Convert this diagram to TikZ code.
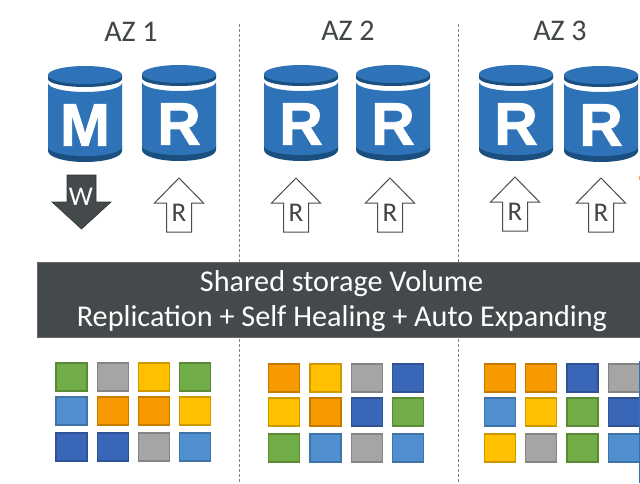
\documentclass[tikz,border=0pt]{standalone}
\usepackage{fontspec}
\setmainfont{Carlito}
\newfontfamily\boldf[BoldFeatures={FakeBold=1.6}]{Liberation Sans}
\definecolor{dbblue}{HTML}{2E73B8}
\definecolor{dbdark}{HTML}{1A4F7F}
\definecolor{panel}{HTML}{444A4B}
\definecolor{cgreen}{HTML}{70AD47}
\definecolor{cgray}{HTML}{A5A5A5}
\definecolor{cyellow}{HTML}{FFC000}
\definecolor{cblue}{HTML}{5090D0}
\definecolor{corange}{HTML}{F79A00}
\definecolor{cnavy}{HTML}{3A66B8}
\definecolor{inktext}{HTML}{404548}
\tikzset{
 x=1pt,y=-1pt,
 azlabel/.style={font=\fontsize{30}{32}\selectfont,text=inktext,inner sep=0pt,anchor=base},
 sep/.style={draw=black!50,line width=0.9pt,dash pattern=on 3pt off 2pt},
 sq/.style={minimum width=31pt,minimum height=28pt,inner sep=0pt,line width=1.4pt,draw=#1!80!black,fill=#1},
 arrowlabel/.style={font=\fontsize{27}{29}\selectfont,text=inktext,inner sep=0pt,anchor=base},
 volumetext/.style={text=white,inner sep=0pt,font=\fontsize{30.2}{32}\selectfont,anchor=base},
}
\newcommand{\dbcyl}[4]{%
 \fill[dbdark] (#1-37,#2+80) -- (#1-37,#2+85) arc[x radius=37,y radius=11,start angle=180,end angle=0] -- (#1+37,#2+80) -- cycle;
 \fill[dbblue] (#1-37,#2+17) -- (#1-37,#2+81) arc[x radius=37,y radius=9,start angle=180,end angle=0] -- (#1+37,#2+17) arc[x radius=37,y radius=9,start angle=0,end angle=180] -- cycle;
 \fill[dbdark] (#1-37,#2+9) -- (#1-37,#2+13) arc[x radius=37,y radius=8,start angle=180,end angle=0] -- (#1+37,#2+9) -- cycle;
 \fill[dbblue] (#1,#2+9) ellipse[x radius=37,y radius=9];
 \node[name=#4,text=white,inner sep=0pt,font=\boldf\bfseries\fontsize{60}{60}\selectfont] at (#1,#2+59) {#3};
}
\newcommand{\uparrowbox}[3]{%
 \draw[draw=black!70,fill=white,line width=1pt,line join=miter] (#1,#2) -- (#1+24.5,#2+25) -- (#1+12.5,#2+25) -- (#1+12.5,#2+54) -- (#1-12.5,#2+54) -- (#1-12.5,#2+25) -- (#1-24.5,#2+25) -- cycle;
 \node[arrowlabel,name=#3] at (#1,#2+43) {R};
}
\begin{document}
\begin{tikzpicture}
\useasboundingbox (0,0) rectangle (640,483);
\fill[white] (0,0) rectangle (640,483);
\node[azlabel] (az1) at (131,41.7) {AZ 1};
\node[azlabel] (az2) at (348,40) {AZ 2};
\node[azlabel] (az3) at (560,40) {AZ 3};
\coordinate (s1a) at (239,24); \coordinate (s1b) at (239,483);
\coordinate (s2a) at (458,24); \coordinate (s2b) at (458,483);
\draw[sep] (s1a) -- (s1b);
\draw[sep] (s2a) -- (s2b);
\dbcyl{85}{66}{M}{dbm}
\dbcyl{179}{65}{R}{dba}
\dbcyl{301}{65}{R}{dbb}
\dbcyl{393}{65}{R}{dbc}
\dbcyl{516}{65}{R}{dbd}
\dbcyl{601}{66}{R}{dbe}
\fill[panel,draw=black!80,line width=.6pt] (67,175) -- (96,175) -- (96,202) -- (111,202) -- (81.5,229) -- (52,202) -- (67,202) -- cycle;
\node[font=\fontsize{27}{29}\selectfont,text=white,inner sep=0pt,anchor=base] (w) at (81,205) {W};
\uparrowbox{179}{178}{ra}
\uparrowbox{296}{178}{rb}
\uparrowbox{390}{178}{rc}
\uparrowbox{515}{177}{rd}
\uparrowbox{601}{178}{re}
\fill[orange!60!brown!70] (638.5,176) rectangle (640,180);
\node[fill=panel,draw=black!60,line width=.6pt,minimum width=606pt,minimum height=75pt,anchor=north west,inner sep=0pt] (vol) at (36.5,261.5) {};
\node[volumetext] (t1) at (341.5,291) {Shared storage Volume};
\node[volumetext] (t2) at (342,326) {Replication + Self Healing + Auto Expanding};
\foreach \n/\x/\y/\c in {
 a/71.6/377/cgreen,b/112.7/377/cgray,c/154/377/cyellow,d/195.2/377/cgreen,
 e/71.6/411/cblue,f/112.7/411/corange,g/154/411/corange,h/195.2/411/cyellow,
 i/71.6/447/cnavy,j/112.7/447/cnavy,k/154/447/cgray,l/195.2/447/cblue,
 m/284/378/corange,n/325.5/378/cyellow,o/366.7/378/cgray,p/407.7/378/cnavy,
 q/284/412/cyellow,r/325.5/412/corange,s/366.7/412/cnavy,t/407.7/412/cgreen,
 u/284/448/cgreen,v/325.5/448/cblue,w/366.7/448/cgray,x/407.7/448/cblue,
 aa/500/378/corange,ab/541.2/378/corange,ac/582.5/378/cnavy,ad/624/378/cgray,
 ae/500/412/cblue,af/541.2/412/cyellow,ag/582.5/412/cgreen,ah/624/412/cnavy,
 ai/500/448/cyellow,aj/541.2/448/cgray,ak/582.5/448/cgreen,al/624/448/cblue}
 {\node[sq=\c] (sq\n) at (\x,\y) {};}
\fill[dbblue] (639,361) rectangle (640,483);
\end{tikzpicture}
\end{document}
